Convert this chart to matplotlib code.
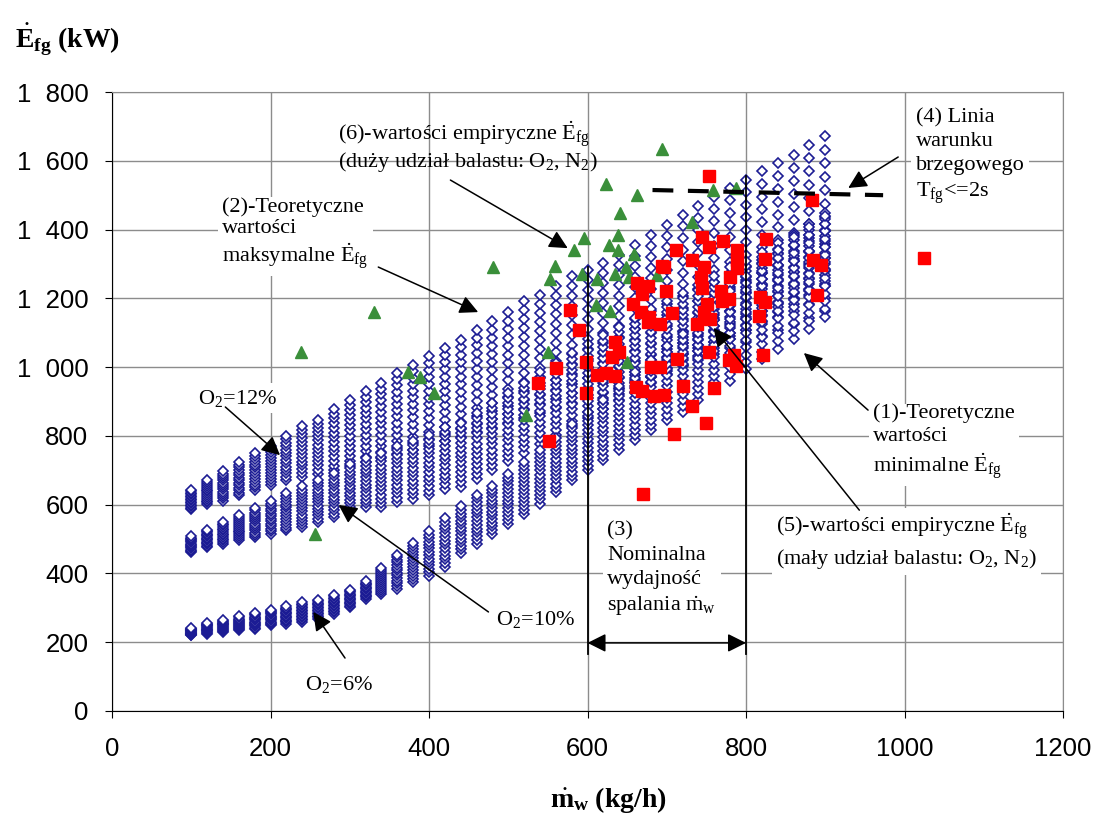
import numpy as np
import matplotlib
matplotlib.use("Agg")
import matplotlib.pyplot as plt
from matplotlib.ticker import FuncFormatter, MultipleLocator

plt.rcParams['font.family'] = ['Liberation Sans', 'DejaVu Sans']
plt.rcParams['mathtext.fontset'] = 'custom'
plt.rcParams['mathtext.rm'] = 'Liberation Serif'
plt.rcParams['mathtext.it'] = 'Liberation Serif:italic'
plt.rcParams['mathtext.bf'] = 'Liberation Serif:bold'

SERIF = ['Liberation Serif', 'DejaVu Serif']

# theoretical columns (kg/h) and band limits (kW) for O2 = 12 %, 10 %, 6 %
col_x = [100, 120, 140, 160, 180, 200, 220, 240, 260, 280, 300, 320, 340, 360,
         380, 400, 420, 440, 460, 480, 500, 520, 540, 560, 580, 600, 620, 640,
         660, 680, 700, 720, 740, 760, 780, 800, 820, 840, 860, 880, 900]
hi12 = [643, 671, 697, 723, 750, 771, 800, 828, 847, 878, 905, 930, 954, 983,
        1007, 1031, 1056, 1080, 1109, 1133, 1159, 1191, 1211, 1235, 1264, 1283, 1303, 1327,
        1355, 1385, 1414, 1443, 1468, 1494, 1521, 1545, 1569, 1593, 1618, 1647, 1671]
lo12 = [587, 601, 612, 627, 642, 656, 671, 680, 690, 700, 712, 724, 736, 748,
        760, 772, 785, 798, 811, 824, 838, 852, 866, 880, 895, 910, 925, 940,
        956, 972, 988, 1004, 1021, 1038, 1055, 1072, 1090, 1108, 1126, 1144, 1162]
hi10 = [508, 527, 549, 571, 590, 610, 634, 653, 672, 693, 717, 735, 750, 770,
        786, 803, 826, 838, 866, 895, 925, 955, 985, 1012, 1040, 1066, 1092, 1118,
        1143, 1168, 1192, 1216, 1240, 1265, 1290, 1310, 1335, 1360, 1385, 1415, 1448]
lo10 = [462, 477, 487, 496, 506, 516, 525, 535, 550, 564, 583, 593, 593, 608,
        617, 627, 646, 651, 675, 700, 726, 751, 777, 802, 828, 853, 878, 904,
        929, 955, 980, 1006, 1031, 1057, 1082, 1108, 1133, 1159, 1184, 1210, 1235]
hi6 = [241, 256, 265, 275, 285, 295, 304, 316, 324, 338, 353, 377, 416, 455,
       489, 522, 561, 595, 629, 654, 690, 725, 760, 795, 835, 870, 905, 945,
       985, 1020, 1060, 1095, 1135, 1175, 1220, 1265, 1300, 1340, 1378, 1407, 1440]
lo6 = [220, 225, 230, 235, 239, 249, 254, 259, 268, 283, 302, 327, 341, 356,
       375, 394, 419, 460, 487, 516, 545, 574, 603, 637, 671, 700, 729, 758,
       787, 816, 845, 869, 903, 937, 961, 995, 1024, 1054, 1083, 1112, 1146]
points_per_band = 14

# empirical values, small ballast share (red squares)
red_x = [753, 883, 1025, 744, 753, 771, 712, 732, 747, 696, 743, 788, 789, 788, 780,
         825, 824, 885, 894, 890, 699, 744, 768, 778, 751, 770, 818, 824, 707, 747,
         817, 738, 755, 753, 713, 785, 787, 822, 720, 760, 697, 684, 732, 749, 709,
         670, 680, 692, 661, 669, 612, 623, 635, 598, 598, 560, 537, 551, 578, 589,
         635, 640, 631, 663, 676, 669, 694, 657, 667, 678, 676, 692, 779]
red_y = [1555, 1486, 1317, 1377, 1348, 1367, 1342, 1311, 1292, 1292, 1263, 1341, 1311, 1287, 1261,
         1374, 1314, 1312, 1296, 1210, 1221, 1230, 1222, 1197, 1185, 1192, 1205, 1190, 1156, 1160,
         1149, 1125, 1139, 1045, 1024, 1035, 1003, 1035, 946, 939, 919, 915, 888, 837, 806,
         632, 1001, 1000, 943, 932, 978, 983, 974, 926, 1016, 996, 955, 786, 1166, 1109,
         1074, 1045, 1028, 1244, 1236, 1214, 1295, 1185, 1161, 1145, 1132, 1126, 1021]

# empirical values, large ballast share (green triangles)
green_x = [238, 256, 330, 374, 389, 406, 481, 522, 550, 553, 559, 583, 596, 593, 611,
           612, 623, 627, 629, 635, 638, 639, 641, 648, 650, 652, 659, 663, 688, 694,
           732, 758, 787]
green_y = [1043, 514, 1161, 987, 972, 924, 1290, 860, 1045, 1255, 1293, 1342, 1375, 1272, 1181,
           1255, 1534, 1355, 1163, 1272, 1342, 1384, 1447, 1292, 1016, 1263, 1329, 1500, 1268, 1634,
           1423, 1515, 1522]

# boundary condition line (4) and nominal range (3)
limit_x = [682, 973]
limit_y = [1515, 1500]
nominal_range = [600, 800]
nominal_top = [1290, 1555]

fig = plt.figure(figsize=(11.08, 8.21), dpi=100)
ax = fig.add_axes([0.1011, 0.134, 0.8583, 0.7539])

# theoretical diamonds
tx, ty = [], []
for i, x in enumerate(col_x):
    for lo, hi in ((lo12[i], hi12[i]), (lo10[i], hi10[i]), (lo6[i], hi6[i])):
        vals = np.linspace(lo, hi, points_per_band)
        tx.extend([x] * len(vals))
        ty.extend(vals)
ax.plot(tx, ty, 'D', ms=5.0, mfc='white', mec='#1c1c94', mew=1.2, ls='none', zorder=3)

ax.plot(green_x, green_y, '^', ms=8, color='#3a8f3a', ls='none', zorder=4)
ax.plot(red_x, red_y, 's', ms=8.4, color='#ff0000', ls='none', zorder=5)

ax.plot(limit_x, limit_y, color='black', lw=3, dashes=(5, 3.5), zorder=6)
for xv, top in zip(nominal_range, nominal_top):
    ax.plot([xv, xv], [165, top], color='black', lw=1.3, zorder=6)

ax.set_xlim(0, 1200)
ax.set_ylim(0, 1800)
ax.xaxis.set_major_locator(MultipleLocator(200))
ax.yaxis.set_major_locator(MultipleLocator(200))
ax.yaxis.set_major_formatter(FuncFormatter(lambda v, p: f'{v:,.0f}'.replace(',', '  ')))
ax.grid(True, color='#8c8c8c', lw=1)
ax.set_axisbelow(True)
for s in ('top', 'right'):
    ax.spines[s].set_color('#8c8c8c')
for s in ('left', 'bottom'):
    ax.spines[s].set_color('black')
ax.tick_params(labelsize=18.5, length=5)
ax.tick_params(axis='x', pad=14)
ax.tick_params(axis='y', pad=12)

txt = dict(fontsize=16, family=SERIF)
white = dict(facecolor='white', edgecolor='none', pad=3)
arrow = dict(arrowstyle='-|>', color='black', lw=1.1, mutation_scale=28,
             shrinkA=0, shrinkB=0)

ax.text(285, 1675, '(6)-wartości empiryczne $\\dot{\\mathrm{E}}_{\\mathrm{fg}}$', va='center', **txt)
ax.text(285, 1596, '(duży udział balastu: O$_2$, N$_2$)', va='center', **txt)
ax.annotate('', xy=(575, 1346), xytext=(427, 1544), arrowprops=arrow, zorder=7)

ax.text(139, 1385, '(2)-Teoretyczne\nwartości\nmaksymalne $\\dot{\\mathrm{E}}_{\\mathrm{fg}}$',
        va='center', bbox=white, linespacing=1.15, **txt)
ax.annotate('', xy=(462, 1160), xytext=(336, 1291), arrowprops=arrow, zorder=7)

ax.text(1014, 1611, '(4) Linia\nwarunku\nbrzegowego\nT$_{\\mathrm{fg}}$<=2s',
        va='center', bbox=white, linespacing=1.35, **txt)
ax.annotate('', xy=(929, 1521), xytext=(992, 1611), arrowprops=arrow, zorder=7)

ax.text(960, 780, '(1)-Teoretyczne\nwartości\nminimalne $\\dot{\\mathrm{E}}_{\\mathrm{fg}}$',
        va='center', bbox=white, linespacing=1.25, **txt)
ax.annotate('', xy=(873, 1041), xytext=(954, 875), arrowprops=arrow, zorder=7)

ax.text(838, 535, '(5)-wartości empiryczne $\\dot{\\mathrm{E}}_{\\mathrm{fg}}$',
        va='center', bbox=white, **txt)
ax.text(838, 443, '(mały udział balastu: O$_2$, N$_2$)', va='center', bbox=white, **txt)
ax.annotate('', xy=(759, 1114), xytext=(943, 584), arrowprops=arrow, zorder=7)

ax.text(625, 410, '(3)\nNominalna\nwydajność\nspalania $\\dot{\\mathrm{m}}_{\\mathrm{w}}$',
        va='center', bbox=white, linespacing=1.35, **txt)
ax.annotate('', xy=(800, 198), xytext=(600, 198),
            arrowprops=dict(arrow, arrowstyle='<|-|>'), zorder=7)

ax.text(109, 910, 'O$_2$=12%', va='center', bbox=white, **txt)
ax.annotate('', xy=(212, 744), xytext=(143, 884), arrowprops=arrow, zorder=7)
ax.text(484, 265, 'O$_2$=10%', va='center', bbox=white, **txt)
ax.annotate('', xy=(286, 599), xytext=(475, 288), arrowprops=arrow, zorder=7)
ax.text(244, 76, 'O$_2$=6%', va='center', bbox=white, **txt)
ax.annotate('', xy=(254, 288), xytext=(294, 154), arrowprops=arrow, zorder=7)

fig.text(15 / 1108, 1 - 40 / 821, '$\\dot{\\mathbf{E}}_{\\mathbf{fg}}$ (kW)',
         fontsize=20, family=SERIF, weight='bold', va='center', ha='left')
fig.text(608 / 1108, 1 - 800 / 821, '$\\dot{\\mathbf{m}}_{\\mathbf{w}}$ (kg/h)',
         fontsize=20, family=SERIF, weight='bold', va='center', ha='center')

fig.savefig('out.png', dpi=100)
